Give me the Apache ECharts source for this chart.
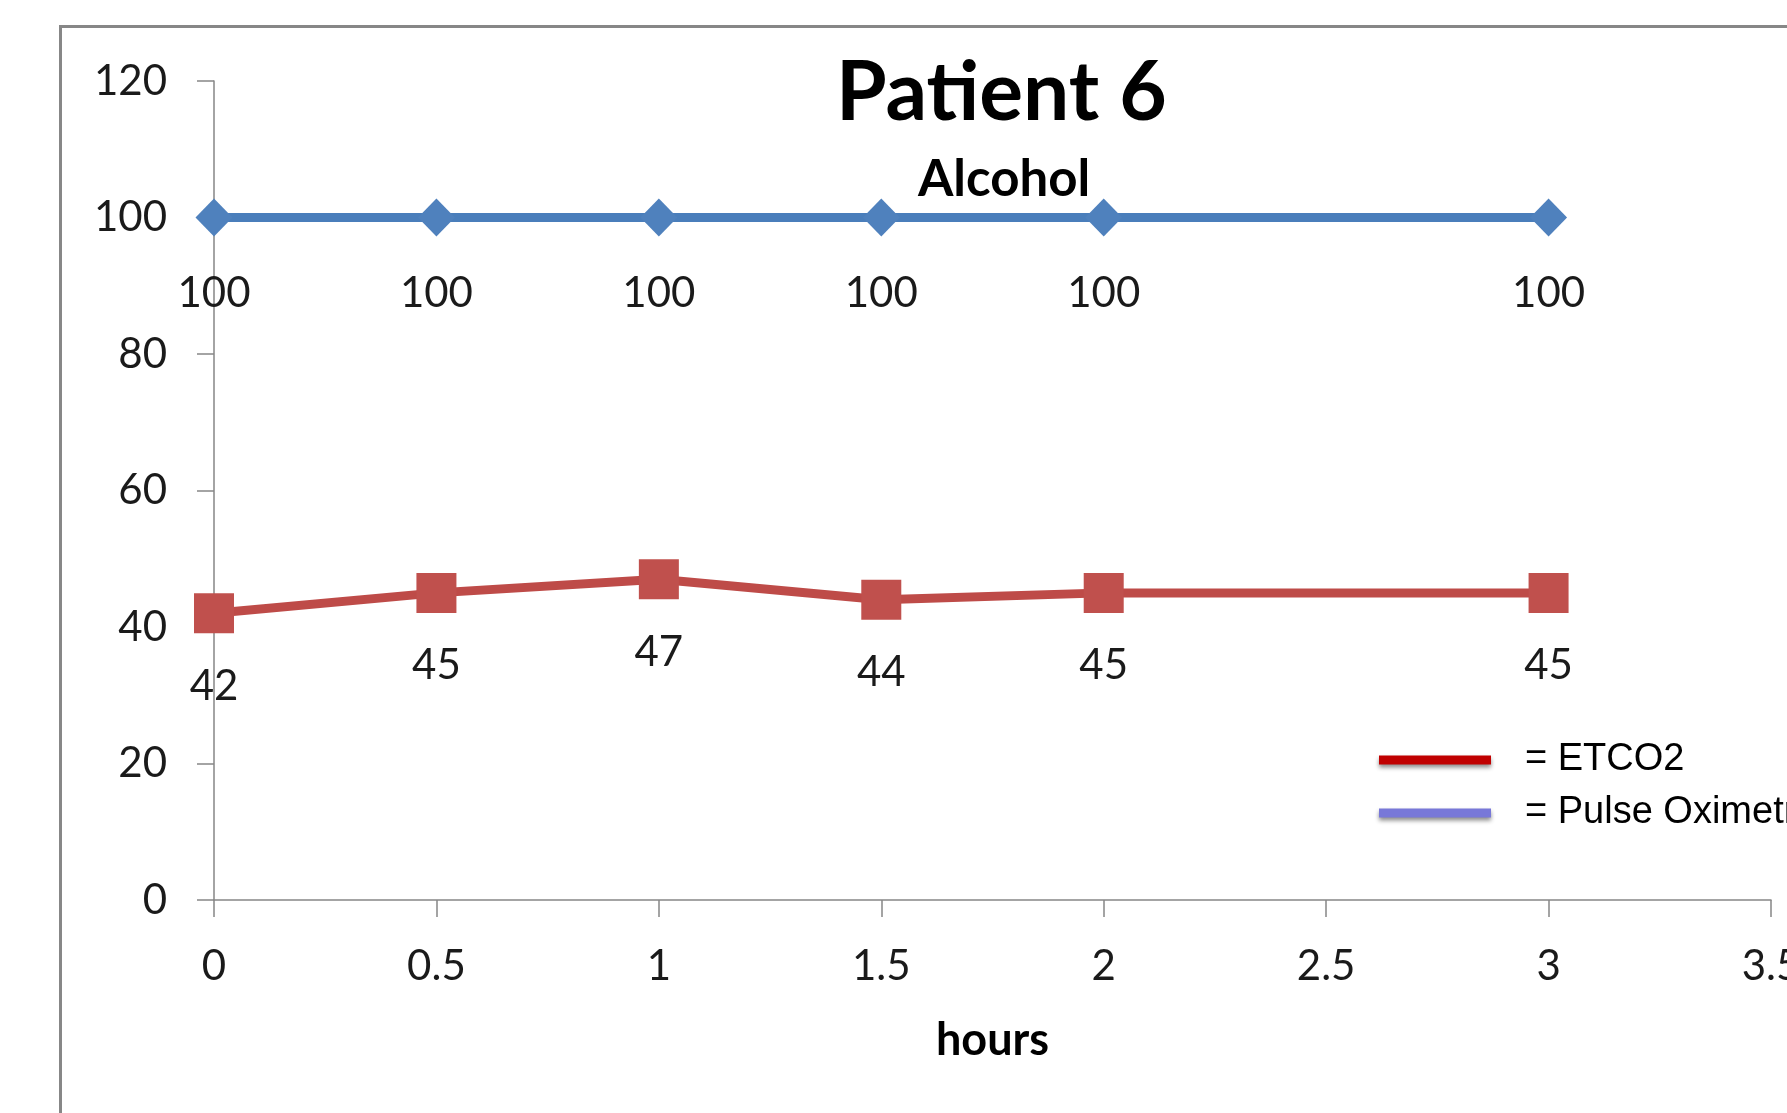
<!DOCTYPE html>
<html>
<head>
<meta charset="utf-8">
<script src="https://cdn.jsdelivr.net/npm/echarts@6/dist/echarts.min.js"></script>
<style>
  html, body { margin: 0; padding: 0; background: #fff; }
  #chart { width: 1787px; height: 1113px; }
</style>
</head>
<body>
<div id="chart"></div>
<script>
// ---- data ----
const hours = [0, 0.5, 1, 1.5, 2, 3];
const etco2 = [42, 45, 47, 44, 45, 45];
const pulseOx = [100, 100, 100, 100, 100, 100];
const titleText = 'Patient 6';
const subtitleText = 'Alcohol';
const xAxisName = 'hours';
const seriesNames = ['ETCO2', 'Pulse Oximetry'];

const pairs = (xs, ys) => xs.map((x, i) => [x, ys[i]]);

const chart = echarts.init(document.getElementById('chart'), null, { renderer: 'canvas' });

const axisGray = '#868686';
const labelFont = { fontFamily: 'Lato', fontSize: 42, color: '#1a1a1a', lineHeight: 42 };

chart.setOption({
  animation: false,
  backgroundColor: '#ffffff',
  title: [
    { text: titleText, left: 836, top: 53, padding: 0,
      textStyle: { fontFamily: 'Lato', fontWeight: 'bold', fontSize: 82, lineHeight: 82, color: '#000' } },
    { text: subtitleText, left: 918, top: 154, padding: 0,
      textStyle: { fontFamily: 'Lato', fontWeight: 'bold', fontSize: 51, lineHeight: 51, color: '#000' } }
  ],
  graphic: [
    { type: 'rect', silent: true, z: -10,
      shape: { x: 60.5, y: 26.5, width: 2000, height: 2000 },
      style: { fill: null, stroke: '#878787', lineWidth: 3 } }
  ],
  legend: {
    orient: 'vertical',
    left: 1379,
    top: 740,
    padding: 0,
    itemGap: 13,
    itemWidth: 112,
    itemHeight: 9,
    icon: 'rect',
    selectedMode: false,
    formatter: '= {name}',
    textStyle: { fontFamily: "'Liberation Sans'", fontSize: 38, lineHeight: 40, color: '#000', padding: [0, 0, 0, 29] },
    data: [
      { name: seriesNames[0], itemStyle: { color: '#C00000', shadowBlur: 4, shadowColor: 'rgba(0,0,0,0.45)', shadowOffsetY: 3 } },
      { name: seriesNames[1], itemStyle: { color: '#7878D8', shadowBlur: 4, shadowColor: 'rgba(0,0,0,0.45)', shadowOffsetY: 3 } }
    ]
  },
  grid: { left: 214, right: 16, top: 81, bottom: 213, containLabel: false, outerBoundsMode: 'none' },
  xAxis: {
    type: 'value',
    min: 0, max: 3.5, interval: 0.5,
    name: xAxisName,
    nameLocation: 'middle',
    nameGap: 118,
    nameTextStyle: { fontFamily: 'Lato', fontWeight: 'bold', fontSize: 45, lineHeight: 45, color: '#000' },
    axisLine: { show: true, onZero: false, lineStyle: { color: axisGray, width: 1.5 } },
    axisTick: { show: true, inside: false, length: 17, lineStyle: { color: axisGray, width: 1.5 } },
    axisLabel: Object.assign({ margin: 45, showMaxLabel: true, showMinLabel: true, hideOverlap: false }, labelFont),
    splitLine: { show: false }
  },
  yAxis: {
    type: 'value',
    min: 0, max: 120, interval: 20,
    axisLine: { show: true, onZero: false, lineStyle: { color: axisGray, width: 1.5 } },
    axisTick: { show: true, inside: false, length: 17, lineStyle: { color: axisGray, width: 1.5 } },
    axisLabel: Object.assign({ margin: 47 }, labelFont),
    splitLine: { show: false }
  },
  series: [
    {
      name: seriesNames[0],
      type: 'line',
      data: pairs(hours, etco2),
      symbol: 'rect',
      symbolSize: 40,
      clip: false,
      lineStyle: { color: '#BE4B48', width: 9 },
      itemStyle: { color: '#C0504D', borderRadius: 3 },
      label: Object.assign({ show: true, position: 'bottom', distance: 32 }, labelFont),
      z: 3
    },
    {
      name: seriesNames[1],
      type: 'line',
      data: pairs(hours, pulseOx),
      symbol: 'diamond',
      symbolSize: [37, 38],
      clip: false,
      lineStyle: { color: '#4A7EBB', width: 9 },
      itemStyle: { color: '#4F81BD' },
      label: Object.assign({ show: true, position: 'bottom', distance: 36 }, labelFont),
      z: 3
    }
  ]
});
</script>
</body>
</html>
